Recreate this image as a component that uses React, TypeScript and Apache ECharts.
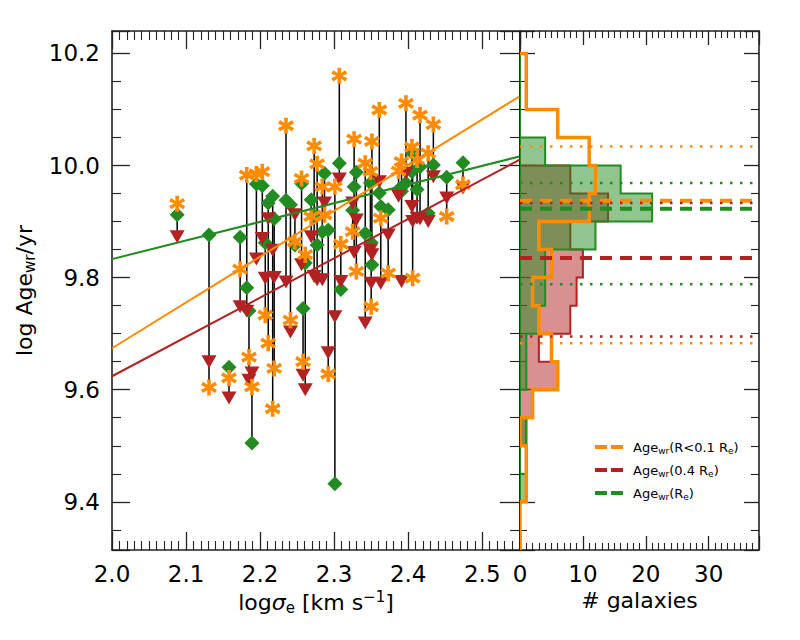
import React, { useEffect, useRef } from "react";
import * as echarts from "echarts";

// ---- galaxies: velocity dispersion and light-weighted ages at three apertures ----
const sigma = [
  2.088, 2.131, 2.158, 2.173, 2.182, 2.185, 2.189, 2.195, 2.203, 2.207,
  2.211, 2.217, 2.219, 2.235, 2.241, 2.247, 2.256, 2.258, 2.261, 2.269,
  2.273, 2.277, 2.284, 2.287, 2.292, 2.301, 2.307, 2.309, 2.325, 2.327,
  2.330, 2.342, 2.349, 2.351, 2.350, 2.361, 2.363, 2.373, 2.387, 2.391,
  2.397, 2.405, 2.406, 2.412, 2.416, 2.427, 2.434, 2.452, 2.474,
];
// R < 0.1 Re (stars)
const ageCore = [
  9.932, 9.604, 9.621, 9.815, 9.983, 9.658, 9.605, 9.985, 9.989, 9.733,
  9.683, 9.566, 9.638, 10.071, 9.724, 9.864, 9.977, 9.650, 9.841, 9.909,
  10.035, 10.003, 9.962, 9.912, 9.628, 9.962, 10.160, 9.860, 9.882, 10.047,
  9.811, 10.004, 9.989, 10.043, 9.748, 10.099, 9.906, 9.808, 9.990, 10.007,
  10.111, 10.033, 9.799, 10.010, 10.090, 10.022, 10.073, 9.909, 9.966,
];
// 0.4 Re (triangles)
const ageMid = [
  9.873, 9.650, 9.585, 9.748, 9.740, 9.617, 9.630, 9.833, 9.870, 9.799,
  9.905, 9.849, 9.800, 9.792, 9.703, 9.912, 9.823, 9.626, 9.600, 9.873,
  9.802, 9.796, 9.796, 9.933, 9.666, 9.730, 9.976, 9.793, 9.933, 9.845,
  9.903, 9.719, 9.849, 9.841, 9.790, 9.971, 9.790, 9.876, 9.945, 9.793,
  9.986, 9.927, 9.900, 9.906, 9.905, 9.900, 9.980, 9.942, 9.960,
];
// Re (diamonds)
const ageRe = [
  9.912, 9.876, 9.640, 9.872, 9.782, 9.741, 9.505, 9.967, 9.964, 9.862,
  9.933, 9.945, 9.905, 9.938, 9.930, 9.858, 9.968, 9.745, 9.826, 9.939,
  9.910, 9.858, 9.882, 9.986, 9.885, 9.432, 10.004, 9.779, 9.920, 9.962,
  9.988, 9.879, 9.969, 9.823, 9.862, 9.951, 9.927, 9.921, 9.957, 9.954,
  9.969, 9.989, 10.022, 9.957, 9.998, 9.915, 10.001, 9.979, 10.005,
];

// ---- linear fits (end points over the plotted sigma range) ----
const fitSigma = [2.0, 2.55];
const fitCore = [9.674, 10.123];
const fitMid = [9.624, 10.010];
const fitRe = [9.833, 10.016];

// ---- age histograms (bin edges in log age, counts per bin) ----
const binEdges = [
  9.30, 9.35, 9.40, 9.45, 9.50, 9.55, 9.60, 9.65, 9.70, 9.75,
  9.80, 9.85, 9.90, 9.95, 10.00, 10.05, 10.10, 10.15, 10.20,
];
const histCore = [0, 0, 1, 1, 0, 2, 6, 5, 3, 2, 5, 3, 11, 12, 11, 6, 1, 1];
const histMid = [0, 0, 0, 0, 1, 2, 6, 3, 8, 9, 10, 8, 14, 8, 0, 0, 0, 0];
const histRe = [0, 0, 1, 0, 1, 0, 1, 1, 3, 4, 4, 12, 21, 16, 4, 0, 0, 0];

// central value (dashed) and spread (dotted) per aperture
const centreCore = 9.937;
const centreMid = 9.835;
const centreRe = 9.923;
const spreadCore = [9.683, 10.034];
const spreadMid = [9.695, 9.933];
const spreadRe = [9.788, 9.969];

const legendLabels = [
  "{b|Age}{s|wr}{b|(R<0.1 R}{s|e}{b|)}",
  "{b|Age}{s|wr}{b|(0.4 R}{s|e}{b|)}",
  "{b|Age}{s|wr}{b|(R}{s|e}{b|)}",
];

const ORANGE = "#FF8C00";
const RED = "#B22222";
const GREEN = "#228B22";
const AXIS = "#222";
const FONT = "DejaVu Sans";

const Y_MIN = 9.314;
const Y_MAX = 10.24;
const X_MIN = 2.0;
const X_MAX = 2.551;
const N_MAX = 38;

// six-armed asterisk marker with tapered arms
function asteriskSymbol(): string {
  const half = 50;
  const wIn = 9;
  const wOut = 12;
  const parts: string[] = [];
  [90, 30, 150, 270, 210, 330].forEach((deg) => {
    const a = (deg * Math.PI) / 180;
    const ux = Math.cos(a);
    const uy = Math.sin(a);
    const px = -uy;
    const py = ux;
    const pts = [
      [50 + wIn * px, 50 + wIn * py],
      [50 + half * ux + wOut * px, 50 + half * uy + wOut * py],
      [50 + half * ux - wOut * px, 50 + half * uy - wOut * py],
      [50 - wIn * px, 50 - wIn * py],
    ];
    parts.push("M" + pts.map((p) => p[0].toFixed(2) + " " + p[1].toFixed(2)).join(" L") + " Z");
  });
  return "path://" + parts.join(" ");
}

function outline(counts: number[], api: any): number[][] {
  const pts: number[][] = [api.coord([0, binEdges[0]])];
  counts.forEach((c, i) => {
    pts.push(api.coord([c, binEdges[i]]));
    pts.push(api.coord([c, binEdges[i + 1]]));
  });
  pts.push(api.coord([0, binEdges[binEdges.length - 1]]));
  return pts;
}

function tickAxis(extra: any, major: number, minor: number, split: number) {
  return {
    type: "value",
    axisLine: { show: true, onZero: false, lineStyle: { color: AXIS, width: 1.6 } },
    axisTick: { show: true, inside: true, length: major, lineStyle: { color: AXIS, width: 1.3 } },
    minorTick: { show: true, splitNumber: split, length: minor, lineStyle: { color: AXIS, width: 1.1 } },
    splitLine: { show: false },
    minorSplitLine: { show: false },
    ...extra,
  };
}

const tickLabel = {
  fontSize: 23,
  color: "#000",
  fontFamily: FONT,
  margin: 12,
};

function buildOption(): any {
  const hidden = { show: false };
  const xLeft = { gridIndex: 0, min: X_MIN, max: X_MAX, interval: 0.1 };
  const xRight = { gridIndex: 1, min: 0, max: N_MAX, interval: 10 };
  const yLeft = { gridIndex: 0, min: Y_MIN, max: Y_MAX, splitNumber: 5 };
  const yRight = { gridIndex: 1, min: Y_MIN, max: Y_MAX, splitNumber: 5 };

  const nameStyle = {
    fontSize: 22,
    color: "#000",
    fontFamily: FONT,
    rich: {
      b: { fontSize: 22, fontFamily: FONT, color: "#000" },
      i: { fontSize: 22, fontFamily: FONT, fontStyle: "italic", color: "#000" },
      s: { fontSize: 15, fontFamily: FONT, color: "#000", padding: [11, 0, 0, 0] },
      p: { fontSize: 15, fontFamily: FONT, color: "#000", padding: [0, 0, 11, 0] },
    },
  };

  const xAxis = [
    tickAxis(
      {
        ...xLeft,
        position: "bottom",
        axisLabel: { ...tickLabel, formatter: (v: number) => v.toFixed(1), showMaxLabel: false },
        name: "{b|log}{i|σ}{s|e}{b| [km s}{p|−1}{b|]}",
        nameLocation: "middle",
        nameGap: 36,
        nameTextStyle: nameStyle,
      },
      18, 9, 10
    ),
    tickAxis({ ...xLeft, position: "top", axisLabel: hidden }, 18, 9, 10),
    tickAxis(
      {
        ...xRight,
        position: "bottom",
        axisLabel: { ...tickLabel, showMaxLabel: false },
        name: "{b|# galaxies}",
        nameLocation: "middle",
        nameGap: 36,
        nameTextStyle: nameStyle,
      },
      14, 7, 10
    ),
    tickAxis({ ...xRight, position: "top", axisLabel: hidden }, 14, 7, 10),
  ];

  const yAxis = [
    tickAxis(
      {
        ...yLeft,
        position: "left",
        axisLabel: {
          ...tickLabel,
          formatter: (v: number) => v.toFixed(1),
          showMinLabel: false,
          showMaxLabel: false,
        },
        name: "{b|log Age}{s|wr}{b|/yr}",
        nameLocation: "middle",
        nameGap: 72,
        nameTextStyle: nameStyle,
      },
      18, 9, 4
    ),
    tickAxis({ ...yLeft, position: "right", axisLabel: hidden }, 20, 10, 4),
    tickAxis({ ...yRight, position: "left", axisLabel: hidden }, 15, 7, 4),
    tickAxis({ ...yRight, position: "right", axisLabel: hidden }, 15, 8, 4),
  ];

  const fitLine = (ys: number[], color: string) => ({
    type: "line",
    xAxisIndex: 0,
    yAxisIndex: 0,
    data: fitSigma.map((s, i) => [s, ys[i]]),
    symbol: "none",
    silent: true,
    lineStyle: { color, width: 2 },
  });

  const markers = (ys: number[], color: string, symbol: string, size: number[], rotate = 0) => ({
    type: "scatter",
    xAxisIndex: 0,
    yAxisIndex: 0,
    data: sigma.map((s, i) => [s, ys[i]]),
    symbol,
    symbolSize: size,
    symbolRotate: rotate,
    silent: true,
    itemStyle: { color, opacity: 1 },
  });

  const hLine = (v: number, color: string, width: number, dash: number[]) => ({
    type: "line",
    xAxisIndex: 2,
    yAxisIndex: 2,
    data: [[0, v], [N_MAX, v]],
    symbol: "none",
    silent: true,
    lineStyle: { color, width, type: dash, cap: "butt" },
  });

  const histFilled = (counts: number[], fill: string, stroke: string) => ({
    type: "custom",
    xAxisIndex: 2,
    yAxisIndex: 2,
    clip: true,
    silent: true,
    data: [[0, binEdges[0]]],
    renderItem: (_p: any, api: any) => ({
      type: "polygon",
      shape: { points: outline(counts, api) },
      style: { fill, stroke, lineWidth: 2, lineJoin: "miter" },
    }),
  });

  const dashed = [12, 8];
  const dotted = [2.5, 7.5];

  const series: any[] = [
    {
      type: "custom",
      xAxisIndex: 0,
      yAxisIndex: 0,
      silent: true,
      data: sigma.map((s, i) => [
        s,
        Math.min(ageCore[i], ageMid[i], ageRe[i]),
        Math.max(ageCore[i], ageMid[i], ageRe[i]),
      ]),
      renderItem: (_p: any, api: any) => {
        const a = api.coord([api.value(0), api.value(1)]);
        const b = api.coord([api.value(0), api.value(2)]);
        return {
          type: "line",
          shape: { x1: a[0], y1: a[1], x2: b[0], y2: b[1] },
          style: { stroke: "#000", lineWidth: 1.5 },
        };
      },
    },
    fitLine(fitRe, GREEN),
    fitLine(fitCore, ORANGE),
    fitLine(fitMid, RED),
    markers(ageRe, GREEN, "diamond", [15, 15]),
    markers(ageMid, RED, "triangle", [15, 13], 180),
    markers(ageCore, ORANGE, asteriskSymbol(), [16, 16]),

    histFilled(histMid, "rgba(178,34,34,0.5)", RED),
    histFilled(histRe, "rgba(34,139,34,0.5)", GREEN),
    {
      type: "custom",
      xAxisIndex: 2,
      yAxisIndex: 2,
      clip: true,
      silent: true,
      data: [[0, binEdges[0]]],
      renderItem: (_p: any, api: any) => ({
        type: "polyline",
        shape: { points: outline(histCore, api) },
        style: { fill: "none", stroke: ORANGE, lineWidth: 3.5, lineJoin: "miter" },
      }),
    },
    hLine(centreCore, ORANGE, 4, dashed),
    hLine(centreRe, GREEN, 4, dashed),
    hLine(centreMid, RED, 4, dashed),
    hLine(spreadCore[0], ORANGE, 2.5, dotted),
    hLine(spreadCore[1], ORANGE, 2.5, dotted),
    hLine(spreadRe[0], GREEN, 2.5, dotted),
    hLine(spreadRe[1], GREEN, 2.5, dotted),
    hLine(spreadMid[0], RED, 2.5, dotted),
    hLine(spreadMid[1], RED, 2.5, dotted),
  ];

  const legendColors = [ORANGE, RED, GREEN];
  const legendRich = {
    b: { fontSize: 13, fontFamily: FONT, fill: "#000" },
    s: { fontSize: 9, fontFamily: FONT, fill: "#000", padding: [8, 0, 0, 0] },
  };
  const graphic: any[] = [];
  legendLabels.forEach((label, k) => {
    const y = 447 + k * 23;
    graphic.push({
      type: "line",
      silent: true,
      shape: { x1: 595, y1: y, x2: 623, y2: y },
      style: { stroke: legendColors[k], lineWidth: 4, lineDash: [12, 4] },
    });
    graphic.push({
      type: "text",
      silent: true,
      x: 633,
      y,
      style: {
        text: label,
        rich: legendRich,
        verticalAlign: "middle",
        align: "left",
        fill: "#000",
        fontFamily: FONT,
        fontSize: 13,
      },
    });
  });

  return {
    animation: false,
    backgroundColor: "#fff",
    grid: [
      { left: 112, top: 31, width: 408, height: 519, outerBoundsMode: "none", containLabel: false },
      { left: 520, top: 31, width: 239, height: 519, outerBoundsMode: "none", containLabel: false },
    ],
    xAxis,
    yAxis,
    series,
    graphic,
  };
}

export default function App() {
  const ref = useRef<HTMLDivElement>(null);
  useEffect(() => {
    document.body.style.margin = "0";
    const chart = echarts.init(ref.current!, null, { renderer: "svg" });
    chart.setOption(buildOption());
    return () => chart.dispose();
  }, []);
  return <div ref={ref} style={{ width: 800, height: 640 }} />;
}
